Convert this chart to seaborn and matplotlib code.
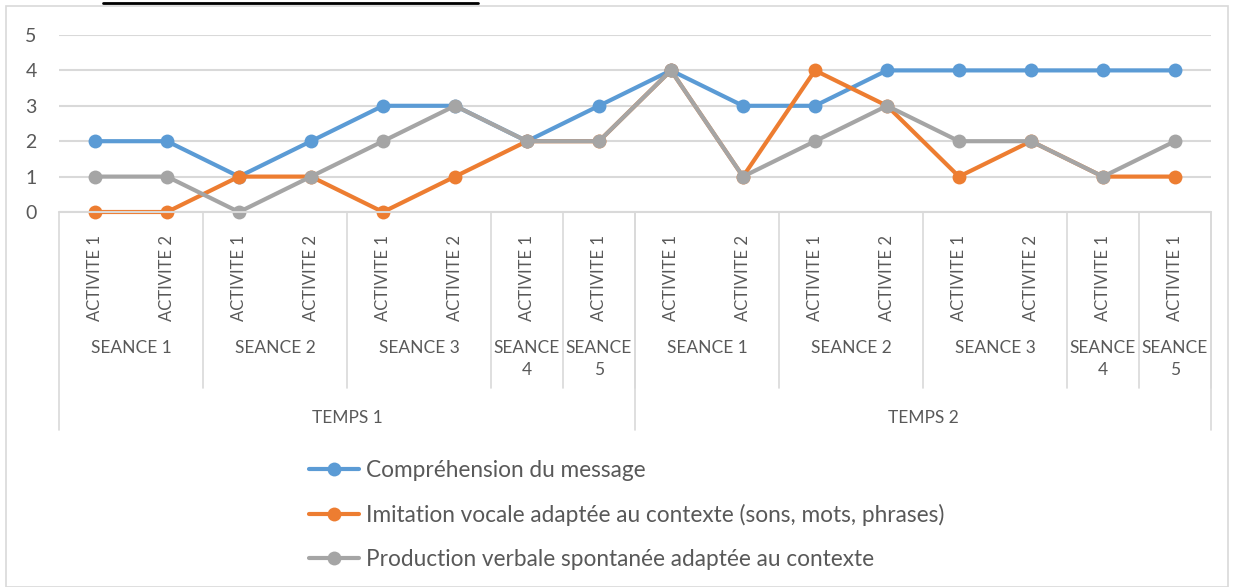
import pandas as pd
import seaborn as sns
import matplotlib.pyplot as plt
from matplotlib.lines import Line2D
from matplotlib.patches import Rectangle
import matplotlib.transforms as mtransforms

# ================= DATA =================
ACTIVITES = ["ACTIVITE 1", "ACTIVITE 2", "ACTIVITE 1", "ACTIVITE 2",
             "ACTIVITE 1", "ACTIVITE 2", "ACTIVITE 1", "ACTIVITE 1",
             "ACTIVITE 1", "ACTIVITE 2", "ACTIVITE 1", "ACTIVITE 2",
             "ACTIVITE 1", "ACTIVITE 2", "ACTIVITE 1", "ACTIVITE 1"]
SEANCES = ["SEANCE 1", "SEANCE 2", "SEANCE 3", "SEANCE\n4", "SEANCE\n5",
           "SEANCE 1", "SEANCE 2", "SEANCE 3", "SEANCE\n4", "SEANCE\n5"]
SEANCE_SIZES = [2, 2, 2, 1, 1, 2, 2, 2, 1, 1]
TEMPS = ["TEMPS 1", "TEMPS 2"]
TEMPS_SIZES = [8, 8]

SERIES = ["Compréhension du message",
          "Imitation vocale adaptée au contexte (sons, mots, phrases)",
          "Production verbale spontanée adaptée au contexte"]
comprehension = [2, 2, 1, 2, 3, 3, 2, 3, 4, 3, 3, 4, 4, 4, 4, 4]
imitation = [0, 0, 1, 1, 0, 1, 2, 2, 4, 1, 4, 3, 1, 2, 1, 1]
production = [1, 1, 0, 1, 2, 3, 2, 2, 4, 1, 2, 3, 2, 2, 1, 2]
COLORS = ["#5B9BD5", "#ED7D31", "#A5A5A5"]
# ========================================

rows = []
for name, vals in zip(SERIES, [comprehension, imitation, production]):
    for i, v in enumerate(vals):
        rows.append({"pos": i, "score": v, "serie": name})
df = pd.DataFrame(rows)

sns.set_theme(style="white")
plt.rcParams["font.family"] = ["Lato", "DejaVu Sans"]
TXT = "#595959"
GRID = "#D9D9D9"

W, H = 1239, 587
fig = plt.figure(figsize=(W / 100, H / 100), dpi=100)

# plot area in pixels
x0, x1, ytop, ybot = 59, 1211, 35, 212
ax = fig.add_axes([x0 / W, 1 - ybot / H, (x1 - x0) / W, (ybot - ytop) / H])

sns.lineplot(data=df, x="pos", y="score", hue="serie", palette=COLORS,
             marker="o", markersize=10, markeredgewidth=0, linewidth=3,
             ax=ax, clip_on=False, legend=True)

ax.set_xlim(-0.5, len(ACTIVITES) - 0.5)
ax.set_ylim(0, 5)
ax.set_yticks(range(6))
ax.yaxis.grid(True, color=GRID, linewidth=1.5)
ax.set_axisbelow(True)
for s in ax.spines.values():
    s.set_visible(False)
ax.tick_params(axis="y", length=0, labelsize=14, labelcolor=TXT, pad=16)
ax.set_xticks([])
ax.set_xlabel("")
ax.set_ylabel("")

# multi-level category axis
trans = mtransforms.blended_transform_factory(ax.transData, fig.transFigure)
fy = lambda p: 1 - p / H

ax.add_line(Line2D([-0.5, len(ACTIVITES) - 0.5], [fy(ybot)] * 2, transform=trans,
                   color=GRID, lw=1.5, clip_on=False))

for i, lab in enumerate(ACTIVITES):
    ax.text(i, fy(235), lab, transform=trans, rotation=90, ha="center", va="top",
            fontsize=12, color=TXT, clip_on=False)

start = 0
for lab, n in zip(SEANCES, SEANCE_SIZES):
    center = start + (n - 1) / 2
    ax.text(center, fy(340), lab, transform=trans, ha="center", va="top",
            fontsize=12.5, color=TXT, linespacing=1.45, clip_on=False)
    start += n
    ax.add_line(Line2D([start - 0.5] * 2, [fy(ybot), fy(388)], transform=trans,
                       color=GRID, lw=1.2, clip_on=False))

start = 0
ax.add_line(Line2D([-0.5] * 2, [fy(ybot), fy(430)], transform=trans,
                   color=GRID, lw=1.2, clip_on=False))
for lab, n in zip(TEMPS, TEMPS_SIZES):
    center = start + (n - 1) / 2
    ax.text(center, fy(410), lab, transform=trans, ha="center", va="top",
            fontsize=12.5, color=TXT, clip_on=False)
    start += n
    ax.add_line(Line2D([start - 0.5] * 2, [fy(ybot), fy(430)], transform=trans,
                       color=GRID, lw=1.2, clip_on=False))

# legend below
handles, labels = ax.get_legend_handles_labels()
ax.get_legend().remove()
leg = fig.legend(handles, labels, loc="upper left",
                 bbox_to_anchor=(289 / W, 1 - 440 / H), frameon=False,
                 fontsize=16.3, labelcolor=TXT, handlelength=2.2,
                 handletextpad=0.3, labelspacing=1.0)

# chart frame and clipped title underline
fig.add_artist(Rectangle((6 / W, 0), (1228 - 6) / W, 1 - 6 / H,
                         transform=fig.transFigure, fill=False,
                         edgecolor=GRID, lw=1.2))
fig.add_artist(Line2D([103 / W, 478 / W], [1 - 3 / H] * 2,
                      transform=fig.transFigure, color="black", lw=2))

fig.savefig("out.png", dpi=100)
